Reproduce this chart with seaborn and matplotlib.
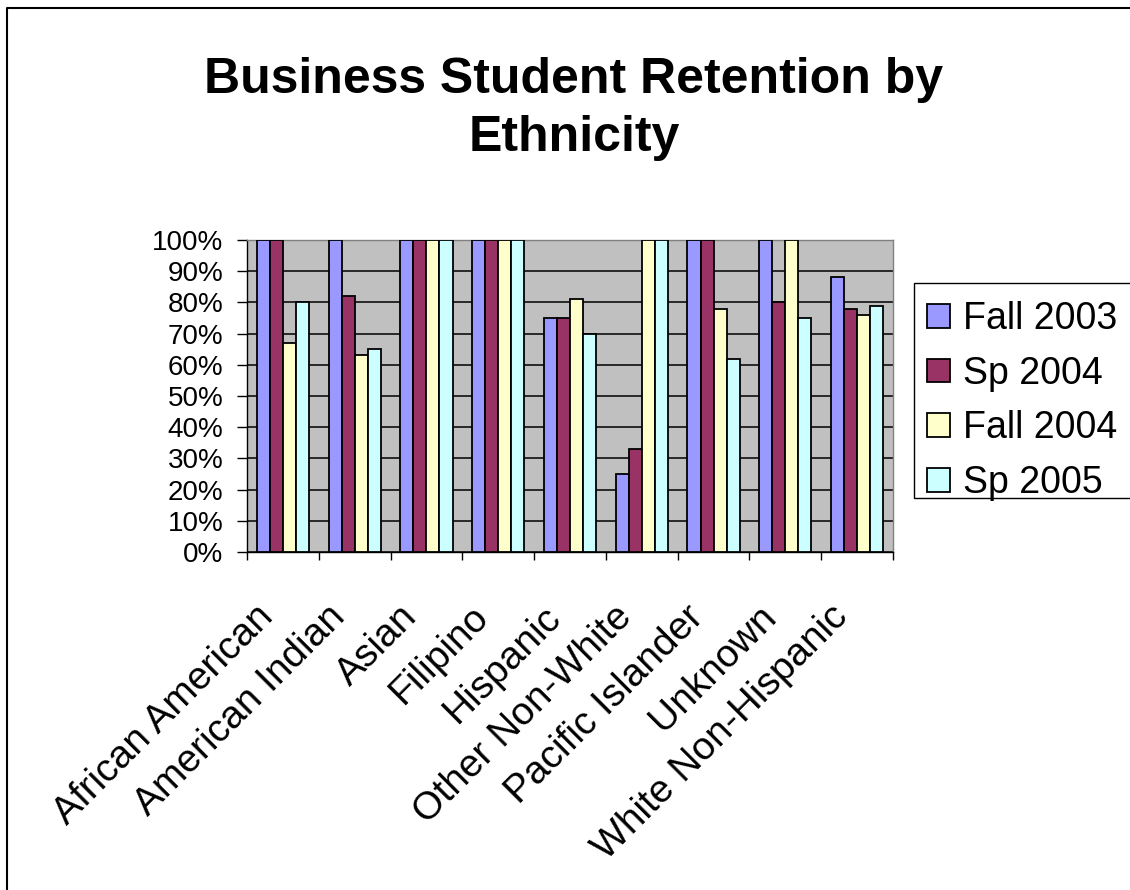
import matplotlib
matplotlib.use("Agg")
import matplotlib.pyplot as plt
from matplotlib.lines import Line2D
from matplotlib.patches import Rectangle
from matplotlib.ticker import FuncFormatter, FixedLocator
from matplotlib.transforms import ScaledTranslation
import seaborn as sns
import pandas as pd

# Retention rate (%) per ethnicity and term
ethnicities = ["African American", "American Indian", "Asian", "Filipino", "Hispanic",
               "Other Non-White", "Pacific Islander", "Unknown", "White Non-Hispanic"]
terms = ["Fall 2003", "Sp 2004", "Fall 2004", "Sp 2005"]
fall_2003 = [100, 100, 100, 100, 75, 25, 100, 100, 88]
sp_2004 = [100, 82, 100, 100, 75, 33, 100, 80, 78]
fall_2004 = [67, 63, 100, 100, 81, 100, 78, 100, 76]
sp_2005 = [80, 65, 100, 100, 70, 100, 62, 75, 79]
term_colors = ["#9999FF", "#993366", "#FFFFCC", "#CCFFFF"]

series = [fall_2003, sp_2004, fall_2004, sp_2005]
df = pd.DataFrame(
    [(eth, term, vals[i]) for term, vals in zip(terms, series) for i, eth in enumerate(ethnicities)],
    columns=["Ethnicity", "Term", "Retention"],
)

sns.set_style("white")
plt.rcParams["font.family"] = ["Liberation Sans", "DejaVu Sans"]
plt.rcParams["text.color"] = "black"
plt.rcParams["xtick.color"] = "black"
plt.rcParams["ytick.color"] = "black"
plt.rcParams["axes.labelcolor"] = "black"

W, H = 1130, 890
fig = plt.figure(figsize=(W / 100, H / 100), dpi=100)
ax = fig.add_axes([247 / W, 1 - 552 / H, 646 / W, 312 / H])
ax.set_facecolor("#C0C0C0")

sns.barplot(data=df, x="Ethnicity", y="Retention", hue="Term", order=ethnicities,
            hue_order=terms, palette=term_colors, width=4 / 5.5, edgecolor="black",
            linewidth=1.3, saturation=1, ax=ax, zorder=3)

ax.set_ylim(0, 100)
ax.set_xlim(-0.5, len(ethnicities) - 0.5)
ax.set_yticks(range(0, 101, 10))
ax.yaxis.set_major_formatter(FuncFormatter(lambda v, _: f"{v:.0f}%"))
ax.grid(axis="y", color="black", linewidth=1.1, zorder=1)
ax.grid(axis="x", visible=False)
ax.set_axisbelow(True)
ax.set_xlabel("")
ax.set_ylabel("")

# category boundary ticks on the x axis
ax.xaxis.set_minor_locator(FixedLocator([i - 0.5 for i in range(len(ethnicities) + 1)]))
ax.tick_params(axis="x", which="minor", length=6, width=1, color="black", direction="out", bottom=True)
ax.tick_params(axis="x", which="major", length=0, pad=48, labelsize=28)
ax.tick_params(axis="y", which="major", length=7, width=1, color="black", direction="out",
               left=True, pad=10, labelsize=20)
ax.set_xticks(range(len(ethnicities)))
ax.set_xticklabels(ethnicities, rotation=45, ha="right", va="baseline", rotation_mode="anchor")
shift = ScaledTranslation(-8 / 100, 0, fig.dpi_scale_trans)
for lbl in ax.get_xticklabels():
    lbl.set_transform(lbl.get_transform() + shift)

for side in ("left", "bottom"):
    ax.spines[side].set_color("black")
    ax.spines[side].set_linewidth(1.0)
for side in ("top", "right"):
    ax.spines[side].set_color("#808080")
    ax.spines[side].set_linewidth(1.0)

# legend box and entries
handles, labels = ax.get_legend_handles_labels()
ax.get_legend().remove()
fig.add_artist(Rectangle((914 / W, 1 - 498 / H), (1140 - 914) / W, (498 - 283) / H,
                         transform=fig.transFigure, facecolor="white", edgecolor="black",
                         linewidth=1.0, zorder=4))
leg = fig.legend(handles, labels, loc="upper left", bbox_to_anchor=(919.5 / W, 1 - 293.5 / H),
                 bbox_transform=fig.transFigure, fontsize=27, frameon=False,
                 borderpad=0.2, labelspacing=0.5, handlelength=0.6, handleheight=0.6,
                 handletextpad=0.37, borderaxespad=0)
leg.set_zorder(5)

fig.text(574 / W, 1 - 109 / H, "Business Student Retention by\nEthnicity",
         ha="center", va="center", multialignment="center", fontsize=36,
         fontweight="bold", linespacing=1.35)

# chart border along the left and top edges
fig.add_artist(Line2D([7 / W, 7 / W, 1.0], [0.0, 1 - 8 / H, 1 - 8 / H],
                      transform=fig.transFigure, color="black", linewidth=1.5))

fig.savefig("out.png", dpi=100)
